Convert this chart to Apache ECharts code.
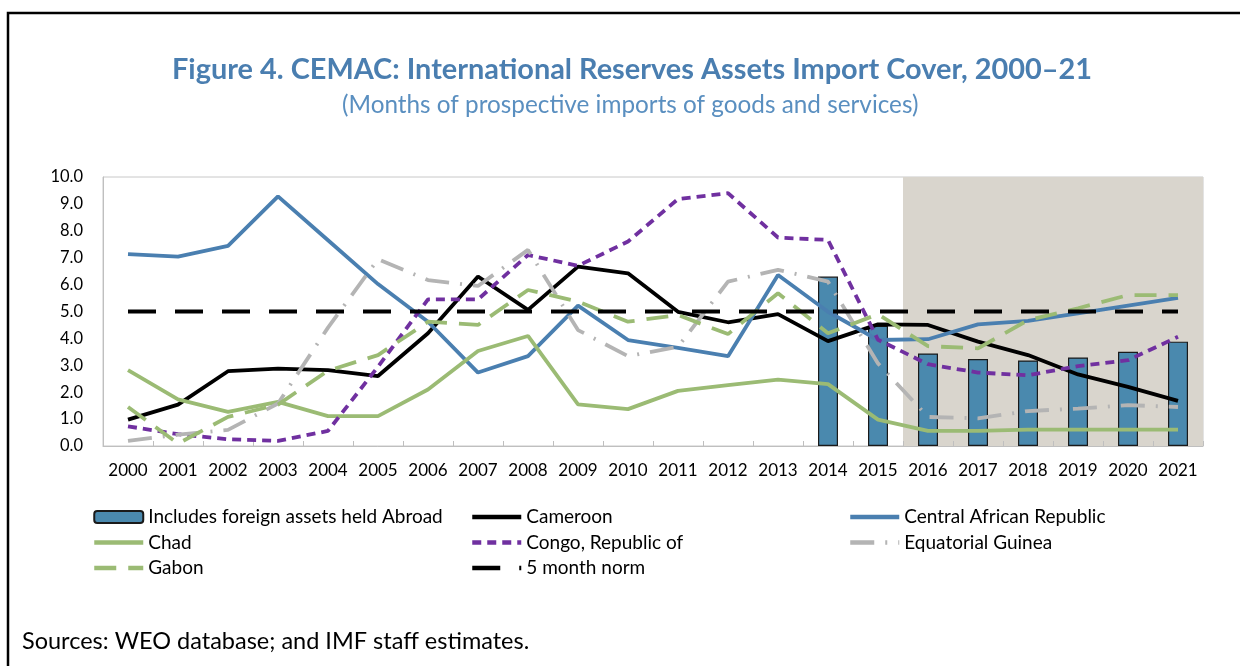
<!DOCTYPE html>
<html>
<head>
<meta charset="utf-8">
<script src="https://cdn.jsdelivr.net/npm/echarts@6/dist/echarts.min.js"></script>
<style>html,body{margin:0;padding:0;background:#fff}#c{width:1240px;height:666px}</style>
</head>
<body>
<div id="c"></div>
<script>
const years = ['2000','2001','2002','2003','2004','2005','2006','2007','2008','2009','2010','2011','2012','2013','2014','2015','2016','2017','2018','2019','2020','2021'];
const abroad = [null,null,null,null,null,null,null,null,null,null,null,null,null,null,6.30,4.47,3.44,3.23,3.18,3.29,3.50,3.88];
const cameroon = [0.98,1.54,2.78,2.88,2.82,2.60,4.19,6.30,5.06,6.67,6.42,4.99,4.60,4.90,3.90,4.52,4.50,3.88,3.38,2.66,2.20,1.68];
const car = [7.13,7.04,7.44,9.28,7.65,6.02,4.62,2.73,3.34,5.22,3.94,3.65,3.34,6.36,4.99,3.94,3.97,4.52,4.65,4.93,5.22,5.51];
const chad = [2.82,1.73,1.27,1.64,1.11,1.11,2.10,3.53,4.09,1.55,1.37,2.05,2.26,2.47,2.30,0.98,0.56,0.56,0.61,0.61,0.61,0.61];
const congo = [0.73,0.44,0.25,0.19,0.56,2.95,5.45,5.45,7.10,6.70,7.60,9.18,9.40,7.75,7.66,3.95,3.04,2.73,2.63,2.97,3.19,4.06];
const eqGuinea = [0.19,0.42,0.60,1.58,4.40,6.94,6.17,5.95,7.29,4.31,3.34,3.69,6.11,6.55,6.11,3.07,1.08,1.03,1.30,1.39,1.52,1.45];
const gabon = [1.45,0.09,1.08,1.54,2.80,3.38,4.62,4.50,5.80,5.37,4.62,4.87,4.16,5.68,4.19,4.90,3.71,3.63,4.68,5.12,5.61,5.61];
const norm = [5,5,5,5,5,5,5,5,5,5,5,5,5,5,5,5,5,5,5,5,5,5];
const projectionYears = ['2016','2017','2018','2019','2020','2021'];
const yMin = 0, yMax = 10, yStep = 1;

const shade = years.map(y => projectionYears.includes(y) ? yMax : null);
const FONT = 'Lato, "Noto Sans", sans-serif';

function lineSeries(name, data, color, width, type, z) {
  return {name, type:'line', data, symbol:'none', z: z || 5,
    lineStyle:{color, width, type: type || 'solid'},
    itemStyle:{color, opacity:0}};
}
const legendText = {fontFamily:FONT, fontSize:19, color:'#000', lineHeight:20};
const legendLine = {width:4.5};

const chart = echarts.init(document.getElementById('c'), null, {renderer:'canvas'});
chart.setOption({
  animation: false,
  backgroundColor: '#fff',
  textStyle: {fontFamily: FONT},
  graphic: [{type:'rect', shape:{x:8,y:13,width:1300,height:700}, style:{fill:'none', stroke:'#000', lineWidth:2.5}, silent:true}],
  title: [
    {text:'Figure 4. CEMAC: International Reserves Assets Import Cover, 2000–21', left:167, top:50,
     textStyle:{fontFamily:FONT, fontSize:28.9, fontWeight:'bold', color:'#4a7eb0'}},
    {text:'(Months of prospective imports of goods and services)', left:337, top:88,
     textStyle:{fontFamily:FONT, fontSize:24.3, fontWeight:'normal', color:'#5a8fc0'}},
    {text:'Sources: WEO database; and IMF staff estimates.', left:17, top:624,
     textStyle:{fontFamily:FONT, fontSize:23.5, fontWeight:'normal', color:'#000'}}
  ],
  grid: {left:103, right:37, top:177, bottom:220, show:true, borderColor:'#c8c8c8', borderWidth:1, backgroundColor:'transparent'},
  legend: [
    {orient:'vertical', left:87, top:502, itemWidth:49, itemHeight:12, itemGap:5.5, textStyle:legendText, lineStyle:legendLine,
     data:['Includes foreign assets held Abroad','Chad','Gabon']},
    {orient:'vertical', left:465, top:502, itemWidth:49, itemHeight:12, itemGap:5.5, textStyle:legendText, lineStyle:legendLine,
     data:['Cameroon','Congo, Republic of','5 month norm']},
    {orient:'vertical', left:843, top:502, itemWidth:49, itemHeight:12, itemGap:5.5, textStyle:legendText, lineStyle:legendLine,
     data:['Central African Republic','Equatorial Guinea']}
  ],
  xAxis: [
    {type:'category', data:years, boundaryGap:true,
     axisLine:{lineStyle:{color:'#bfbfbf', width:1}},
     axisTick:{show:true, inside:true, length:5, lineStyle:{color:'#bfbfbf'}},
     axisLabel:{fontFamily:FONT, fontSize:17, color:'#000', margin:16, interval:0}},
    {type:'category', data:years, show:false, boundaryGap:true}
  ],
  yAxis: {type:'value', min:yMin, max:yMax, interval:yStep,
    axisLine:{show:true, lineStyle:{color:'#bfbfbf'}}, axisTick:{show:false},
    splitLine:{show:false},
    axisLabel:{fontFamily:FONT, fontSize:16.5, color:'#000', margin:20, formatter:v=>v.toFixed(1)}},
  series: [
    {name:'projection', type:'bar', xAxisIndex:1, data:shade, barWidth:'100%', silent:true, z:0,
     itemStyle:{color:'#d9d5cd'}},
    {name:'Includes foreign assets held Abroad', type:'bar', data:abroad, barWidth:20, z:2,
     itemStyle:{color:'#4a89ae', borderColor:'#1a1a1a', borderWidth:1.2}},
    lineSeries('Cameroon', cameroon, '#000', 3.8),
    lineSeries('Central African Republic', car, '#4a7fb0', 3.8),
    lineSeries('Chad', chad, '#9bbb74', 3.8),
    lineSeries('Congo, Republic of', congo, '#7030a0', 3.8, [9,6]),
    lineSeries('Equatorial Guinea', eqGuinea, '#b4b4b4', 3.8, [24,11,2,11]),
    lineSeries('Gabon', gabon, '#9bbb74', 3.8, [22,12]),
    lineSeries('5 month norm', norm, '#000', 4.2, [28,19], 6)
  ]
});
</script>
</body>
</html>
